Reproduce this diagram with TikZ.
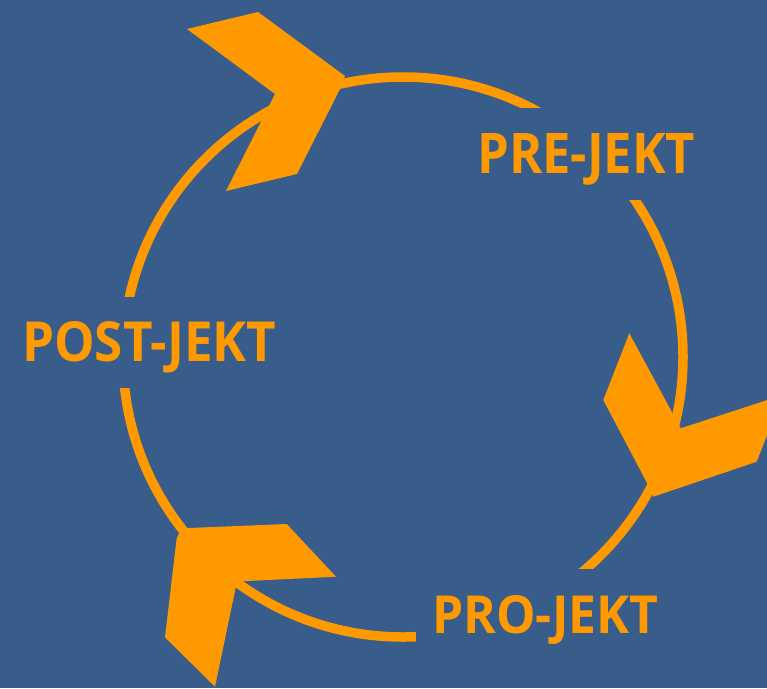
\documentclass[tikz,border=0pt]{standalone}
\usepackage{fontspec}
\setmainfont{Open Sans}
\usepackage{graphicx}
\definecolor{bgblue}{RGB}{56,93,138}
\definecolor{orng}{RGB}{255,153,0}
\tikzset{
  ring/.style={draw=orng, line width=9.5pt},
  cut/.style={fill=bgblue},
  chev/.style={fill=orng},
  lbl/.style={text=orng, inner sep=0pt, anchor=base west, font=\bfseries}
}
\begin{document}
\begin{tikzpicture}[x=1pt,y=-1pt]
\useasboundingbox (0,0) rectangle (767,688);
\fill[bgblue] (0,0) rectangle (767,688);
\clip (0,0) rectangle (767,688);
% ring
\draw[ring] (403,357) circle[radius=280];
% gaps behind labels
\fill[cut] (470,108) rectangle (710,200);
\fill[cut] (10,297) rectangle (285,388);
\fill[cut] (416,569) rectangle (720,688);
% chevrons
\fill[chev] (187,29) -- (258,12) -- (345,76) -- (341,87) -- (297,174) -- (226,191) -- (275,94) -- cycle;
\fill[chev] (629.3,333.3) -- (603.3,400) -- (647.7,484.3) -- (653.3,496.7) -- (756.7,461.7) -- (782.7,395) -- (680.7,428.3) -- cycle;
\fill[chev] (181.7,528.3) -- (286.7,524) -- (336,576.7) -- (237,581.5) -- (215,686.7) -- (165,637.3) -- (176.7,538.3) -- cycle;
% labels
\node[lbl] (pre) at (477,173) {\resizebox{218pt}{40pt}{PRE-JEKT}};
\node[lbl] (post) at (22,361.5) {\resizebox{254pt}{40pt}{POST-JEKT}};
\node[lbl] (pro) at (432,633) {\resizebox{226pt}{38pt}{PRO-JEKT}};
\end{tikzpicture}
\end{document}
